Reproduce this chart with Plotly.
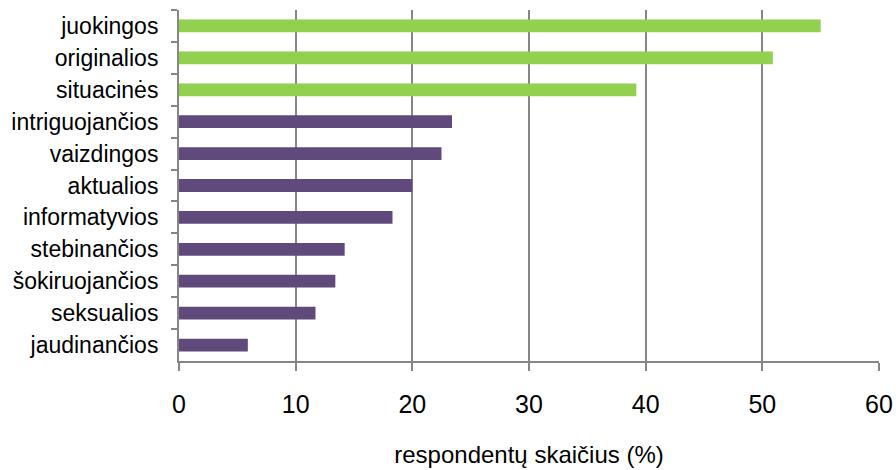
import plotly.graph_objects as go

categories = ["juokingos", "originalios", "situacinės", "intriguojančios", "vaizdingos",
              "aktualios", "informatyvios", "stebinančios", "šokiruojančios", "seksualios",
              "jaudinančios"]
values = [55.0, 50.9, 39.2, 23.4, 22.5, 20.0, 18.3, 14.2, 13.4, 11.7, 5.9]
colors = ["#92D050"] * 3 + ["#604A7B"] * 8
x_ticks = [0, 10, 20, 30, 40, 50, 60]

fig = go.Figure(go.Bar(
    y=categories, x=values, orientation="h",
    marker=dict(color=colors, line=dict(width=0)),
    hoverinfo="x+y",
))

fig.update_layout(
    width=896, height=470,
    margin=dict(l=179, r=17, t=10, b=109),
    paper_bgcolor="white", plot_bgcolor="white",
    bargap=0.6,
    showlegend=False,
    font=dict(family="Liberation Sans, Arial, sans-serif", color="#000000"),
    xaxis=dict(
        range=[0, 60], tickvals=x_ticks, ticktext=[str(v) for v in x_ticks],
        showgrid=True, gridcolor="#868686", gridwidth=2,
        showline=True, linecolor="#868686", linewidth=2,
        ticks="outside", ticklen=8, tickcolor="#868686", tickwidth=2,
        tickfont=dict(size=25), zeroline=False, automargin=False,
        ticklabelstandoff=12,
        title=dict(text="respondentų skaičius (%)", font=dict(size=24), standoff=29),
    ),
    yaxis=dict(
        autorange="reversed", type="category",
        showgrid=False, showline=True, linecolor="#868686", linewidth=2,
        ticks="outside", ticklen=6, tickcolor="#868686", tickwidth=2,
        tickson="boundaries", tickfont=dict(size=23), ticklabelstandoff=14,
        automargin=False,
    ),
)

fig.write_html("out.html")
